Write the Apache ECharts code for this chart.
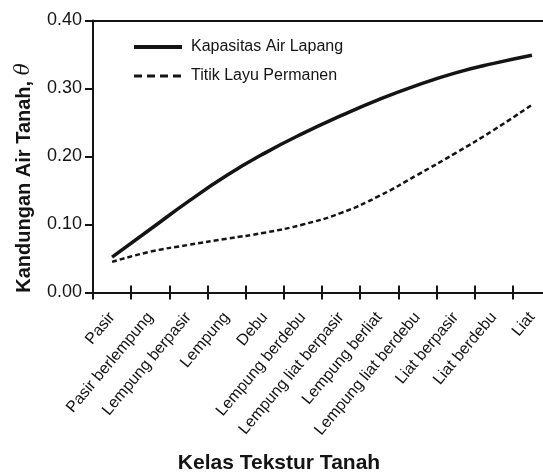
<!DOCTYPE html>
<html>
<head>
<meta charset="utf-8">
<script src="https://cdn.jsdelivr.net/npm/echarts@6/dist/echarts.min.js"></script>
<style>
html,body{margin:0;padding:0;background:#fff;overflow:hidden;}
#chart{width:551px;height:473px;}
</style>
</head>
<body>
<div id="chart"></div>
<script>
const categories = ['Pasir','Pasir berlempung','Lempung berpasir','Lempung','Debu','Lempung berdebu','Lempung liat berpasir','Lempung berliat','Lempung liat berdebu','Liat berpasir','Liat berdebu','Liat'];
const kapasitasAirLapang = [0.052,0.093,0.134,0.172,0.205,0.234,0.260,0.284,0.305,0.323,0.337,0.349];
const titikLayuPermanen = [0.045,0.060,0.070,0.079,0.088,0.100,0.117,0.142,0.173,0.205,0.239,0.276];
const seriesNames = ['Kapasitas Air Lapang','Titik Layu Permanen'];
const yMin = 0, yMax = 0.4, yStep = 0.1;
const xTitle = 'Kelas Tekstur Tanah';
const yTitle = 'Kandungan Air Tanah, ';

const FONT = '"Liberation Sans", Arial, sans-serif';
const INK = '#141414';
const chart = echarts.init(document.getElementById('chart'), null, {renderer:'canvas'});
chart.setOption({
  backgroundColor:'#ffffff',
  animation:false,
  textStyle:{fontFamily:FONT,color:INK},
  grid:{left:93,top:20.5,right:0,height:272},
  legend:{
    orient:'vertical',left:132,top:39,padding:0,itemWidth:48,itemHeight:16,itemGap:13,
    textStyle:{fontFamily:FONT,fontSize:16,color:INK,padding:[0,0,0,4]},
    data:[
      {name:seriesNames[0],itemStyle:{color:'rgba(0,0,0,0)',borderWidth:0,opacity:0},lineStyle:{width:4,color:INK,type:'solid'}},
      {name:seriesNames[1],itemStyle:{color:'rgba(0,0,0,0)',borderWidth:0,opacity:0},lineStyle:{width:3,color:INK,type:[8,5]}}
    ]
  },
  xAxis:[
    {type:'category',data:categories,position:'bottom',boundaryGap:true,
     axisLine:{lineStyle:{color:INK,width:2}},
     axisTick:{show:true,inside:false,length:7,lineStyle:{color:INK,width:2},interval:0},
     axisLabel:{interval:0,rotate:50,margin:22,fontSize:16,fontFamily:FONT,color:INK},
     splitLine:{show:false}},
    {type:'category',data:categories,position:'bottom',boundaryGap:true,
     axisLine:{show:false},
     axisTick:{show:true,inside:true,length:7,lineStyle:{color:INK,width:2},interval:0},
     axisLabel:{show:false},splitLine:{show:false}},
    {type:'category',data:categories,position:'top',boundaryGap:true,
     axisLine:{show:true,lineStyle:{color:INK,width:2}},
     axisTick:{show:false},axisLabel:{show:false},splitLine:{show:false}}
  ],
  yAxis:{
    type:'value',min:yMin,max:yMax,interval:yStep,
    axisLine:{show:true,lineStyle:{color:INK,width:2}},
    axisTick:{show:true,inside:false,length:8,lineStyle:{color:INK,width:2}},
    axisLabel:{margin:11,fontSize:18,fontFamily:FONT,color:INK,formatter:v=>v.toFixed(2)},
    splitLine:{show:false}
  },
  graphic:[
    {type:'text',x:279,y:463,
     style:{text:xTitle,font:'bold 21px '+FONT,fill:INK,textAlign:'center',textVerticalAlign:'middle'}},
    {type:'text',x:24,y:178,rotation:Math.PI/2,
     style:{text:yTitle+'{i|θ}',font:'bold 20px '+FONT,fill:INK,textAlign:'center',textVerticalAlign:'middle',
       rich:{i:{fontStyle:'italic',fontWeight:'normal',fontSize:20,fontFamily:'"DejaVu Serif", serif',fill:INK}}}}
  ],
  series:[
    {name:seriesNames[0],type:'line',xAxisIndex:0,data:kapasitasAirLapang,smooth:0.5,showSymbol:false,symbol:'none',
     lineStyle:{color:INK,width:3.5,type:'solid'},itemStyle:{color:INK}},
    {name:seriesNames[1],type:'line',xAxisIndex:0,data:titikLayuPermanen,smooth:0.5,showSymbol:false,symbol:'none',
     lineStyle:{color:INK,width:2.5,type:[5,3]},itemStyle:{color:INK}}
  ]
});
</script>
</body>
</html>
